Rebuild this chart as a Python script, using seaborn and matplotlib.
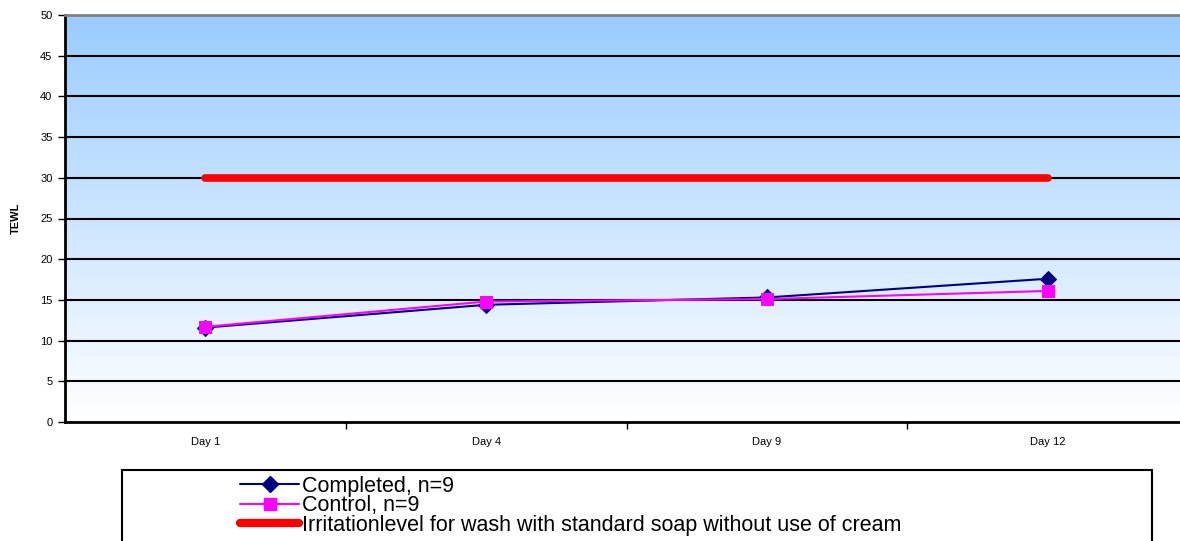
import numpy as np
import pandas as pd
import matplotlib
matplotlib.use("Agg")
import matplotlib.pyplot as plt
import seaborn as sns
from matplotlib.lines import Line2D
from matplotlib.patches import Rectangle
from matplotlib.colors import LinearSegmentedColormap

days = ["Day 1", "Day 4", "Day 9", "Day 12"]
completed = [11.6, 14.4, 15.3, 17.6]
control = [11.7, 14.8, 15.1, 16.1]
irritation = [30, 30, 30, 30]
yticks = [0, 5, 10, 15, 20, 25, 30, 35, 40, 45, 50]
legend_labels = ["Completed, n=9", "Control, n=9",
                 "Irritationlevel for wash with standard soap without use of cream"]

sns.set_style("white")
plt.rcParams['font.family'] = ['Liberation Sans', 'DejaVu Sans']
plt.rcParams['text.color'] = 'black'
plt.rcParams['axes.labelcolor'] = 'black'
plt.rcParams['xtick.color'] = 'black'
plt.rcParams['ytick.color'] = 'black'

W, H = 1180, 541
fig = plt.figure(figsize=(11.8, 5.41), dpi=100)
ax = fig.add_axes([65 / W, 1 - 422 / H, (1188 - 65) / W, (422 - 15) / H])

df = pd.DataFrame({"day": days, "Completed": completed, "Control": control, "Irr": irritation})
xs = np.arange(len(days))

grad = np.linspace(0, 1, 256).reshape(-1, 1)
cmap = LinearSegmentedColormap.from_list("bg", ["#FFFFFF", "#99CCFF"])
ax.imshow(grad, extent=[0, 1, 0, 1], transform=ax.transAxes, cmap=cmap,
          aspect='auto', origin='lower', zorder=0)

for t in yticks[1:-1]:
    ax.axhline(t, color='black', lw=1.5, zorder=1)

sns.lineplot(x=xs, y=df["Irr"], ax=ax, color='#FF0000', lw=5.5, solid_capstyle='round', zorder=3)
sns.lineplot(x=xs, y=df["Completed"], ax=ax, color='#000080', lw=1.5, marker='D',
             markersize=8, markeredgecolor='#000080', zorder=4)
sns.lineplot(x=xs, y=df["Control"], ax=ax, color='#FF00FF', lw=1.5, marker='s',
             markersize=8, markeredgecolor='#FF00FF', zorder=5)

ax.set_xlim(-0.5, 3.5)
ax.set_ylim(0, 50)
ax.set_yticks(yticks)
ax.set_yticklabels([str(v) for v in yticks], fontsize=8)
ax.set_xticks(xs)
ax.set_xticklabels(days, fontsize=8)
ax.set_xticks([0.5, 1.5, 2.5], minor=True)
ax.tick_params(axis='x', which='major', bottom=True, length=0, pad=11)
ax.tick_params(axis='x', which='minor', bottom=True, length=5, width=1, direction='out', color='black')
ax.tick_params(axis='y', which='major', left=True, length=5, width=1, direction='out', color='black', pad=4)
ax.set_xlabel("")
ax.set_ylabel("TEWL", fontsize=8, fontweight='bold', labelpad=14)

for s in ['left', 'bottom']:
    ax.spines[s].set_color('black')
    ax.spines[s].set_linewidth(2)
ax.spines['top'].set_color('#808080')
ax.spines['top'].set_linewidth(2)
ax.spines['right'].set_visible(False)

# legend box
fig.patches.append(Rectangle((122 / W, 1 - 560 / H), (1152 - 122) / W, (560 - 470) / H,
                             transform=fig.transFigure, facecolor='white',
                             edgecolor='black', lw=1.5, zorder=1))

handles = [
    Line2D([0], [0], color='#000080', lw=1.5, marker='D', markersize=8),
    Line2D([0], [0], color='#FF00FF', lw=1.5, marker='s', markersize=8),
    Line2D([0], [0], color='#FF0000', lw=6, solid_capstyle='round'),
]
leg = fig.legend(handles, legend_labels, loc='upper left', bbox_to_anchor=(240 / W, 1 - 476 / H),
                 bbox_transform=fig.transFigure, frameon=False,
                 prop={'size': 15.5}, labelcolor='black',
                 handlelength=2.75, handletextpad=0.15, labelspacing=-0.08,
                 borderpad=0, borderaxespad=0)
leg.set_zorder(5)
fig.savefig("out.png", dpi=100)
